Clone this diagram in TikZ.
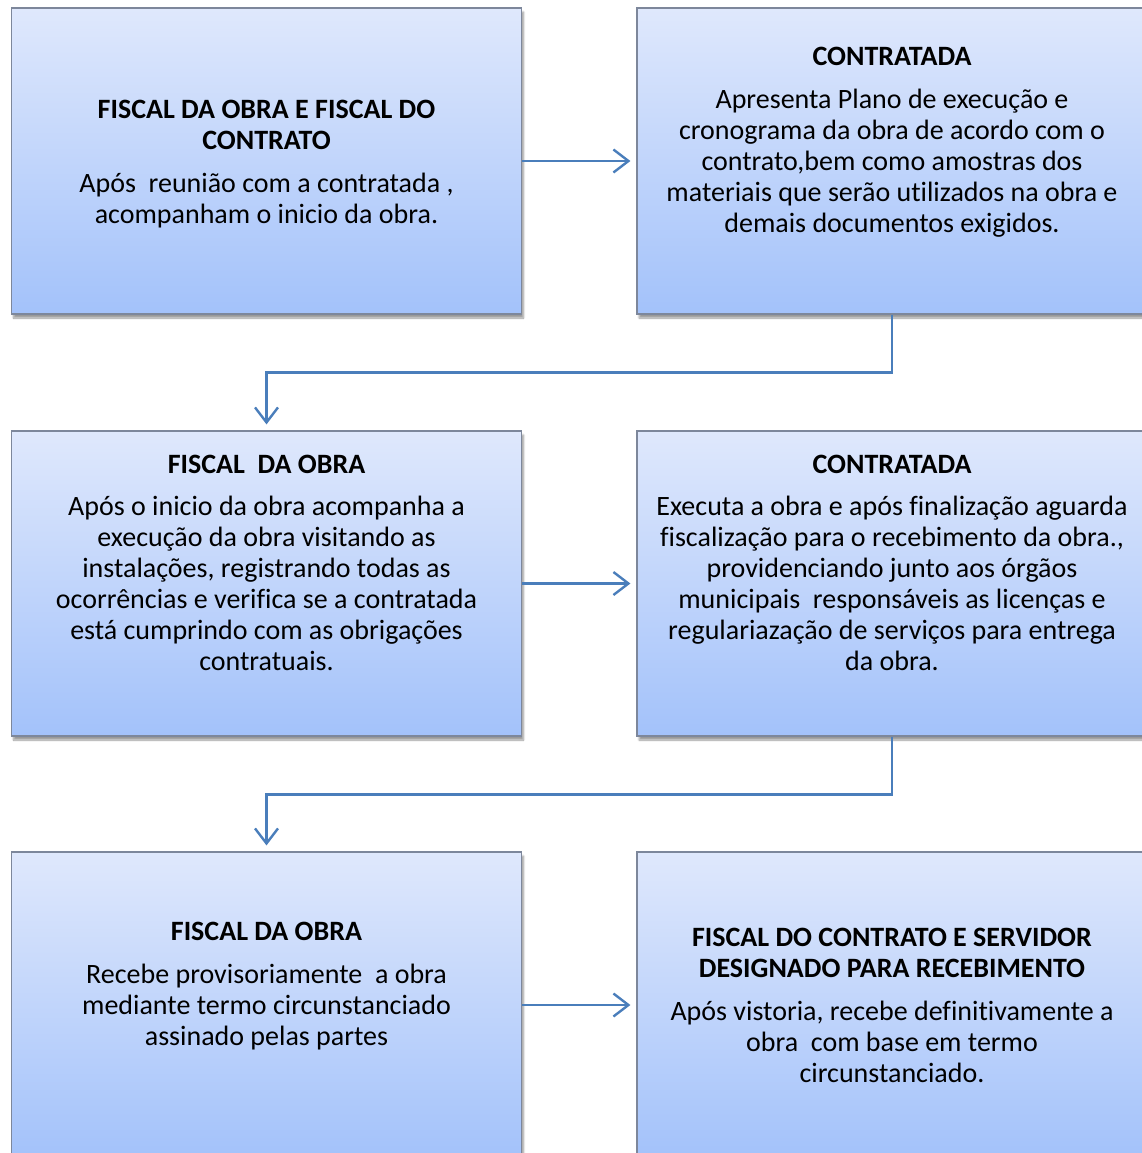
\documentclass[tikz,border=0pt]{standalone}
\usepackage{fontspec}
\setmainfont[Ligatures={NoCommon}]{Carlito}
\usetikzlibrary{arrows.meta,shadows.blur}
\definecolor{boxtop}{RGB}{223,232,252}
\definecolor{boxbot}{RGB}{163,194,250}
\definecolor{boxline}{RGB}{125,135,155}
\definecolor{connblue}{RGB}{74,126,187}
\tikzset{
  box/.style={draw=boxline, line width=1.2pt, top color=boxtop, bottom color=boxbot,
    minimum width=510pt, inner sep=0pt,
    blur shadow={shadow xshift=2pt, shadow yshift=-4pt, shadow blur steps=6, shadow opacity=40}},
  txt/.style={font=\fontsize{28}{31}\selectfont, align=center, anchor=north, inner sep=0pt},
  connector/.style={draw=connblue, line width=2.4pt, -{Straight Barb[length=15pt,width=23pt]}, shorten >=6pt},
}
\begin{document}
\begin{tikzpicture}[x=1pt,y=-1pt]
\useasboundingbox (0,0) rectangle (1142,1153);
\clip (0,0) rectangle (1142,1153);
% boxes
\node[box, minimum height=306pt] (A) at (266.5,161) {};
\node[box, minimum height=306pt] (B) at (892,161) {};
\node[box, minimum height=305pt] (C) at (266.5,583.5) {};
\node[box, minimum height=305pt] (D) at (892,583.5) {};
\node[box, minimum height=306pt] (E) at (266.5,1005) {};
\node[box, minimum height=306pt] (F) at (892,1005) {};
% texts
\node[txt] (tA) at (266.5,96.3) {\strut\textbf{FISCAL DA OBRA E FISCAL DO}\\\textbf{CONTRATO}\\[12pt]Após~ reunião com a contratada ,\\acompanham o inicio da obra.};
\node[txt] (tB) at (892,43.3) {\strut\textbf{CONTRATADA}\\[12pt]Apresenta Plano de execução e\\cronograma da obra de acordo com o\\contrato,bem como amostras dos\\materiais que serão utilizados na obra e\\demais documentos exigidos.};
\node[txt] (tC) at (266.5,451.3) {\strut\textbf{FISCAL~ DA OBRA}\\[11pt]Após o inicio da obra acompanha a\\execução da obra visitando as\\instalações, registrando todas as\\ocorrências e verifica se a contratada\\está cumprindo com as obrigações\\contratuais.};
\node[txt] (tD) at (892,451.3) {\strut\textbf{CONTRATADA}\\[11pt]Executa a obra e após finalização aguarda\\fiscalização para o recebimento da obra.,\\providenciando junto aos órgãos\\municipais~ responsáveis as licenças e\\regulariazação de serviços para entrega\\da obra.};
\node[txt] (tE) at (266.5,918.3) {\strut\textbf{FISCAL DA OBRA}\\[12pt]Recebe provisoriamente~ a obra\\mediante termo circunstanciado\\assinado pelas partes};
\node[txt] (tF) at (892,924.3) {\strut\textbf{FISCAL DO CONTRATO E SERVIDOR}\\\textbf{DESIGNADO PARA RECEBIMENTO}\\[12pt]Após vistoria, recebe definitivamente a\\obra~ com base em termo\\circunstanciado.};
% connectors
\draw[connector] (A.east) -- (B.west);
\draw[connector] (C.east) -- (D.west);
\draw[connector] (E.east) -- (F.west);
\draw[connector] (B.south) -- ++(0,58) -| (C.north);
\draw[connector] (D.south) -- ++(0,58) -| (E.north);
\end{tikzpicture}
\end{document}
